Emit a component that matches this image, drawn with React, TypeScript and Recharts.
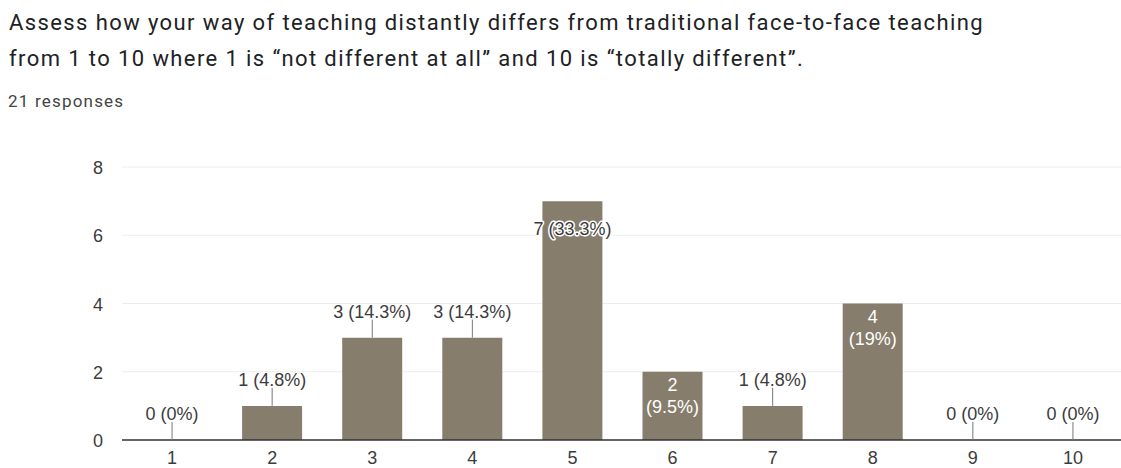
import React from "react";
import { ComposedChart, Bar, Line, XAxis, YAxis, CartesianGrid } from "recharts";

const categories = ["1", "2", "3", "4", "5", "6", "7", "8", "9", "10"];
const counts = [0, 1, 3, 3, 7, 2, 1, 4, 0, 0];
const percents = ["0%", "4.8%", "14.3%", "14.3%", "33.3%", "9.5%", "4.8%", "19%", "0%", "0%"];
const yTicks = [0, 2, 4, 6, 8];
const insideTwoLine = [5, 7];
const insideTop = [4];

const data = categories.map((c, i) => ({ cat: c, count: counts[i], pct: percents[i] }));

const BAR = "#877d6d";
const TXT = "#3c3c3c";
const FONT = "'Liberation Sans', Arial, sans-serif";
const FS = 18;

const LabelDot = (props: any) => {
  const { cx, cy, index } = props;
  const d = data[index];
  if (!d || cx == null || cy == null) return null;
  if (insideTwoLine.includes(index)) {
    return (
      <g key={`l${index}`}>
        <text x={cx} y={cy + 19} textAnchor="middle" fill="#fff" fontSize={FS} fontFamily={FONT}>{d.count}</text>
        <text x={cx} y={cy + 41} textAnchor="middle" fill="#fff" fontSize={FS} fontFamily={FONT}>({d.pct})</text>
      </g>
    );
  }
  if (insideTop.includes(index)) {
    return (
      <text key={`l${index}`} x={cx} y={cy + 34} textAnchor="middle" fill={TXT} fontSize={FS} fontFamily={FONT}
        stroke="#fff" strokeWidth={3} paintOrder="stroke" strokeLinejoin="round">
        {d.count} ({d.pct})
      </text>
    );
  }
  return (
    <g key={`l${index}`}>
      <line x1={cx} x2={cx} y1={cy} y2={cy - 18} stroke="#777" strokeWidth={1} />
      <text x={cx} y={cy - 20} textAnchor="middle" fill={TXT} fontSize={FS} fontFamily={FONT}>
        {d.count} ({d.pct})
      </text>
    </g>
  );
};

const XTick = (props: any) => {
  const { x, payload } = props;
  return (
    <text x={x} y={464} textAnchor="middle" fill={TXT} fontSize={FS} fontFamily={FONT}>{payload.value}</text>
  );
};

const YTick = (props: any) => {
  const { y, payload } = props;
  return (
    <text x={103} y={y + 7} textAnchor="end" fill={TXT} fontSize={FS} fontFamily={FONT}>{payload.value}</text>
  );
};

export default function App() {
  return (
    <div style={{ position: "absolute", left: 0, top: 0, width: 1121, height: 468, background: "#fff", overflow: "hidden" }}>
      <div style={{ position: "absolute", left: 0, top: 0 }}>
        <ComposedChart width={1123} height={468} data={data} margin={{ top: 167, right: 0, bottom: 0, left: 0 }} barCategoryGap={20}>
          <CartesianGrid vertical={false} stroke="#ededed" />
          <XAxis dataKey="cat" tick={<XTick />} tickLine={false} axisLine={{ stroke: "#333", strokeWidth: 1.5 }} height={28} />
          <YAxis domain={[0, 8]} ticks={yTicks} tickLine={false} axisLine={false} width={122} tick={<YTick />} />
          <Bar dataKey="count" fill={BAR} isAnimationActive={false} />
          <Line dataKey="count" stroke="none" dot={<LabelDot />} activeDot={false} isAnimationActive={false} />
        </ComposedChart>
      </div>
      <svg width={1121} height={120} style={{ position: "absolute", left: 0, top: 0 }}>
        <text x={9} y={30} fontFamily="Roboto, sans-serif" fontSize={22} letterSpacing={1.4} fill="#202124">
          Assess how your way of teaching distantly differs from traditional face-to-face teaching
        </text>
        <text x={9} y={66} fontFamily="Roboto, sans-serif" fontSize={22} letterSpacing={1.4} fill="#202124">
          from 1 to 10 where 1 is “not different at all” and 10 is “totally different”.
        </text>
        <text x={8} y={107} fontFamily="Roboto, sans-serif" fontSize={17} letterSpacing={1.2} fill="#444">
          21 responses
        </text>
      </svg>
    </div>
  );
}
